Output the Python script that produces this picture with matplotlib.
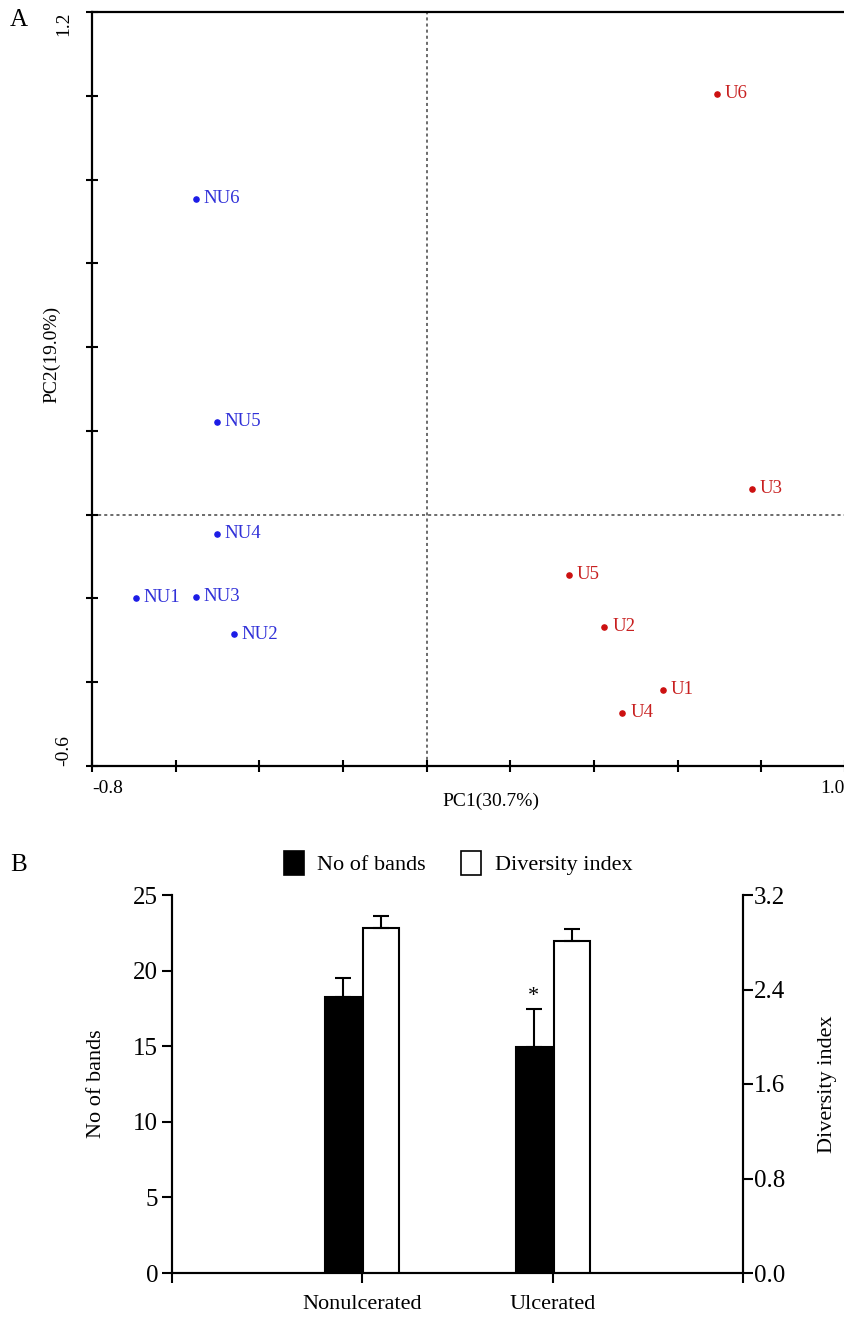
import numpy as np
import matplotlib
matplotlib.use('Agg')
import matplotlib.pyplot as plt
from matplotlib.patches import Patch

plt.rcParams['font.family'] = ['Liberation Serif', 'DejaVu Serif']

# ---- panel A: PCA scores ----
nu_names = ['NU1', 'NU2', 'NU3', 'NU4', 'NU5', 'NU6']
nu_pc1 = [-0.695, -0.460, -0.551, -0.501, -0.501, -0.551]
nu_pc2 = [-0.198, -0.286, -0.196, -0.045, 0.222, 0.754]

u_names = ['U1', 'U2', 'U3', 'U4', 'U5', 'U6']
u_pc1 = [0.564, 0.425, 0.777, 0.468, 0.341, 0.693]
u_pc2 = [-0.418, -0.267, 0.062, -0.473, -0.143, 1.005]

# ---- panel B: bands / diversity ----
groups = ['Nonulcerated', 'Ulcerated']
bands_mean = [18.25, 14.95]
bands_err = [1.25, 2.50]
div_mean = [2.92, 2.81]
div_err = [0.10, 0.10]

W, H = 845, 1321
fig = plt.figure(figsize=(W / 100, H / 100), dpi=100)

# panel A
axA = fig.add_axes([92 / W, 1 - 766 / H, 753 / W, 754 / H])
axA.set_xlim(-0.8, 1.0)
axA.set_ylim(-0.6, 1.2)
axA.axvline(0, color='#444444', lw=1.1, ls=(0, (2, 2)), zorder=1)
axA.axhline(0, color='#444444', lw=1.1, ls=(0, (2, 2)), zorder=1)

blue = '#1c1ce6'
red = '#cc1010'
axA.scatter(nu_pc1, nu_pc2, s=14, color=blue, zorder=3)
axA.scatter(u_pc1, u_pc2, s=14, color=red, zorder=3)
for name, x, y in zip(nu_names, nu_pc1, nu_pc2):
    axA.annotate(name, (x, y), xytext=(5.5, 0), textcoords='offset points',
                 va='center', ha='left', fontsize=13.5, color='#3030d8')
for name, x, y in zip(u_names, u_pc1, u_pc2):
    axA.annotate(name, (x, y), xytext=(5.5, 0), textcoords='offset points',
                 va='center', ha='left', fontsize=13.5, color='#c82020')

xt = np.round(np.arange(-0.8, 1.01, 0.2), 1)
yt = np.round(np.arange(-0.6, 1.21, 0.2), 1)
axA.set_xticks(xt)
axA.set_yticks(yt)
axA.set_xticklabels(['-0.8'] + [''] * (len(xt) - 2) + ['1.0'], fontsize=14)
axA.set_yticklabels(['-0.6'] + [''] * (len(yt) - 2) + ['1.2'], fontsize=14, rotation=90)
xl = axA.get_xticklabels()
xl[0].set_ha('left')
xl[-1].set_ha('right')
yl = axA.get_yticklabels()
yl[0].set_va('bottom')
yl[-1].set_va('top')
axA.tick_params(direction='inout', length=8, width=1.5, pad=6)
axA.tick_params(axis='y', pad=10)
for s in ['left', 'bottom', 'top']:
    axA.spines[s].set_linewidth(1.6)
axA.spines['right'].set_visible(False)
axA.set_xlabel('PC1(30.7%)', fontsize=14)
axA.xaxis.set_label_coords(0.53, -0.035)
axA.set_ylabel('PC2(19.0%)', fontsize=14)
axA.yaxis.set_label_coords(-0.042, 0.546)

fig.text(10 / W, 1 - 20 / H, 'A', fontsize=18, va='center', ha='left')
fig.text(10 / W, 1 - 865 / H, 'B', fontsize=18, va='center', ha='left')

# panel B
axB = fig.add_axes([172 / W, 1 - 1273 / H, 571 / W, 378 / H])
axB2 = axB.twinx()
x = np.arange(1, len(groups) + 1)
bw = 0.19
axB.bar(x - 0.1, bands_mean, width=bw, color='black', edgecolor='black', lw=1.5, zorder=2)
axB.errorbar(x - 0.1, bands_mean, yerr=[np.zeros(len(x)), bands_err], fmt='none',
             ecolor='black', elinewidth=1.5, capsize=6, capthick=1.5, zorder=3)
axB2.bar(x + 0.1, div_mean, width=bw, color='white', edgecolor='black', lw=1.5, zorder=2)
axB2.errorbar(x + 0.1, div_mean, yerr=[np.zeros(len(x)), div_err], fmt='none',
              ecolor='black', elinewidth=1.5, capsize=6, capthick=1.5, zorder=3)
axB.text(2 - 0.1, bands_mean[1] + bands_err[1] + 0.2, '*', ha='center', va='bottom', fontsize=16)

axB.set_xlim(0, 3)
axB.set_ylim(0, 25)
axB2.set_ylim(0, 3.2)
axB.set_xticks([0, 1, 2, 3])
axB.set_xticklabels([''] + groups + [''], fontsize=16)
axB.set_yticks(np.arange(0, 26, 5))
axB.tick_params(axis='y', labelsize=18, length=7, width=1.5, pad=3)
axB.tick_params(axis='x', length=7, width=1.5, pad=9)
axB2.set_yticks(np.arange(0, 3.21, 0.8))
axB2.set_yticklabels([f'{v:.1f}' for v in np.arange(0, 3.21, 0.8)])
axB2.tick_params(axis='y', labelsize=18, length=7, width=1.5, pad=1)
for a in (axB, axB2):
    a.spines['top'].set_visible(False)
    for s in ['left', 'bottom', 'right']:
        a.spines[s].set_linewidth(1.5)
axB.set_ylabel('No of bands', fontsize=16)
axB.yaxis.set_label_coords(-0.115, 0.5)
axB2.set_ylabel('Diversity index', fontsize=16)
axB2.yaxis.set_label_coords(1.131, 0.5)

handles = [Patch(facecolor='black', edgecolor='black', lw=1.2, label='No of bands'),
           Patch(facecolor='white', edgecolor='black', lw=1.2, label='Diversity index')]
fig.legend(handles=handles, loc='center', bbox_to_anchor=(458 / W, 1 - 863 / H), ncol=2,
           frameon=False, fontsize=16, handlelength=0.9, handleheight=1.3,
           handletextpad=0.6, columnspacing=1.6)

fig.savefig('out.png', dpi=100)
